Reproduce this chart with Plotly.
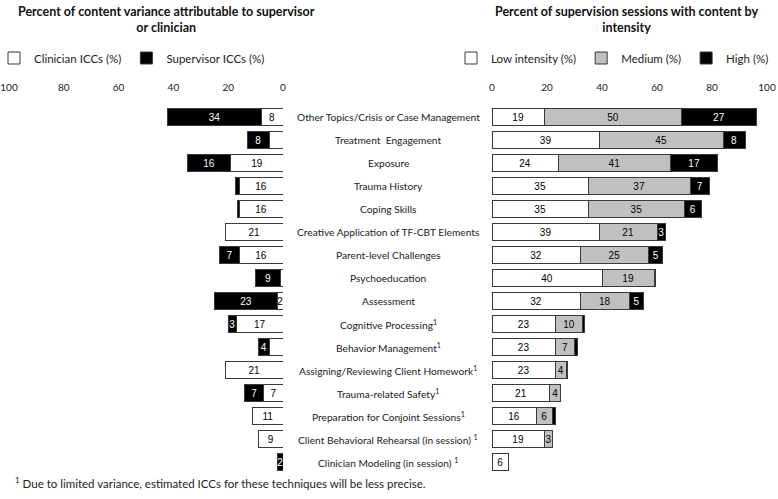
import plotly.graph_objects as go

categories = [
    "Other Topics/Crisis or Case Management",
    "Treatment  Engagement",
    "Exposure",
    "Trauma History",
    "Coping Skills",
    "Creative Application of TF-CBT Elements",
    "Parent-level Challenges",
    "Psychoeducation",
    "Assessment",
    "Cognitive Processing<sup>1</sup>",
    "Behavior Management<sup>1</sup>",
    "Assigning/Reviewing Client Homework<sup>1</sup>",
    "Trauma-related Safety<sup>1</sup>",
    "Preparation for Conjoint Sessions<sup>1</sup>",
    "Client Behavioral Rehearsal (in session) <sup>1</sup>",
    "Clinician Modeling (in session) <sup>1</sup>",
]

clinician_icc = [8, 5, 19, 16, 16, 21, 16, 1, 2, 17, 5, 21, 7, 11, 9, 0]
supervisor_icc = [34, 8, 16, 1.5, 0.5, 0, 7, 9, 23, 3, 4, 0, 7, 0, 0, 2]
clinician_hidden_labels = [1, 5]  # values drawn without a printed label

low_int = [19, 39, 24, 35, 35, 39, 32, 40, 32, 23, 23, 23, 21, 16, 19, 6]
med_int = [50, 45, 41, 37, 35, 21, 25, 19, 18, 10, 7, 4, 4, 6, 3, 0]
high_int = [27, 8, 17, 7, 6, 3, 5, 0.6, 5, 0.6, 1, 0.6, 0, 1, 0, 0]

left_ticks = [0, 20, 40, 60, 80, 100]
right_ticks = [0, 20, 40, 60, 80, 100]

W, H = 778, 499
idx = list(range(len(categories)))


def lab(vals, hidden=()):
    return [str(int(v)) if (v >= 2 and v not in hidden) else "" for v in vals]


OUT = "#3a3a3a"
font_bar = dict(family="Arial", size=10)

fig = go.Figure()
fig.add_trace(go.Bar(
    y=idx, x=clinician_icc, orientation="h", xaxis="x", yaxis="y",
    name="Clinician ICCs (%)", marker=dict(color="white", line=dict(color=OUT, width=1)),
    text=lab(clinician_icc, clinician_hidden_labels), textposition="inside",
    insidetextanchor="middle", textangle=0,
    textfont=dict(font_bar, color="black"), legend="legend", hoverinfo="skip"))
fig.add_trace(go.Bar(
    y=idx, x=supervisor_icc, orientation="h", xaxis="x", yaxis="y",
    name="Supervisor ICCs (%)", marker=dict(color="black", line=dict(color=OUT, width=1)),
    text=lab(supervisor_icc), textposition="inside", insidetextanchor="middle", textangle=0,
    textfont=dict(font_bar, color="white"), legend="legend", hoverinfo="skip"))

fig.add_trace(go.Bar(
    y=idx, x=low_int, orientation="h", xaxis="x2", yaxis="y",
    name="Low intensity (%)", marker=dict(color="white", line=dict(color=OUT, width=1)),
    text=lab(low_int), textposition="inside", insidetextanchor="middle", textangle=0,
    textfont=dict(font_bar, color="black"), legend="legend2", hoverinfo="skip"))
fig.add_trace(go.Bar(
    y=idx, x=med_int, orientation="h", xaxis="x2", yaxis="y",
    name="Medium (%)", marker=dict(color="#c0c0c0", line=dict(color=OUT, width=1)),
    text=lab(med_int), textposition="inside", insidetextanchor="middle", textangle=0,
    textfont=dict(font_bar, color="black"), legend="legend2", hoverinfo="skip"))
fig.add_trace(go.Bar(
    y=idx, x=high_int, orientation="h", xaxis="x2", yaxis="y",
    name="High (%)", marker=dict(color="black", line=dict(color=OUT, width=1)),
    text=lab(high_int), textposition="inside", insidetextanchor="middle", textangle=0,
    textfont=dict(font_bar, color="white"), legend="legend2", hoverinfo="skip"))

# pixel geometry
top_px, bot_px = 97, 475
row0, step = 117, 23
y_top = (top_px - row0) / step
y_bot = (bot_px - row0) / step
px_per_unit = 2.74
left_zero = 283
left_max = 102
left_edge = left_zero - left_max * px_per_unit

axis_common = dict(showgrid=False, zeroline=False, showline=False, ticks="",
                   tickfont=dict(family="Lato", size=10, color="#222"), side="top",
                   fixedrange=True, automargin=False, ticklabelstandoff=3)

legend_common = dict(orientation="h", yanchor="middle", traceorder="normal",
                     font=dict(family="Lato", size=11.5, color="#222"),
                     bgcolor="rgba(0,0,0,0)", itemclick=False, itemdoubleclick=False,
                     itemwidth=30, tracegroupgap=0, borderwidth=0)

fig.update_layout(
    width=W, height=H,
    margin=dict(l=0, r=0, t=0, b=0, autoexpand=False),
    paper_bgcolor="white", plot_bgcolor="white",
    barmode="stack", bargap=0.26,
    uniformtext=dict(minsize=10, mode="show"),
    font=dict(family="Lato", color="#222"),
    xaxis=dict(axis_common, domain=[left_edge / W, left_zero / W], range=[left_max, 0],
               tickvals=left_ticks, anchor="y", ticklabeloverflow="allow"),
    xaxis2=dict(axis_common, domain=[492 / W, 767 / W], range=[0, 100],
                tickvals=right_ticks, anchor="y", ticklabeloverflow="allow"),
    yaxis=dict(domain=[1 - bot_px / H, 1 - top_px / H], range=[y_bot, y_top],
               showticklabels=False, showgrid=False, zeroline=False, showline=False,
               fixedrange=True, automargin=False),
    legend=dict(legend_common, x=-6 / W, xanchor="left", y=1 - 58 / H),
    legend2=dict(legend_common, x=774 / W, xanchor="right", y=1 - 58 / H),
    showlegend=True,
)

annotations = []
for i, c in enumerate(categories):
    annotations.append(dict(x=388 / W, xref="paper", y=i, yref="y", text=c, showarrow=False,
                            xanchor="center", yanchor="middle",
                            font=dict(family="Lato", size=10.2, color="#222")))

annotations.append(dict(x=166 / W, xref="paper", y=1 - 2 / H, yref="paper",
                        text="<b>Percent of content variance attributable to supervisor<br>or clinician</b>",
                        showarrow=False, xanchor="center", yanchor="top",
                        font=dict(family="Lato", size=12.5, color="#111")))
annotations.append(dict(x=627 / W, xref="paper", y=1 - 2 / H, yref="paper",
                        text="<b>Percent of supervision sessions with content by<br>intensity</b>",
                        showarrow=False, xanchor="center", yanchor="top",
                        font=dict(family="Lato", size=12.5, color="#111")))
annotations.append(dict(x=13 / W, xref="paper", y=1 - 482 / H, yref="paper",
                        text="<sup>1</sup> Due to limited variance, estimated ICCs for these techniques will be less precise.",
                        showarrow=False, xanchor="left", yanchor="middle",
                        font=dict(family="Lato", size=11.5, color="#222")))
fig.update_layout(annotations=annotations)

fig.write_html("out.html", post_script="document.body.style.margin='0px';",
               config={"displayModeBar": False})
